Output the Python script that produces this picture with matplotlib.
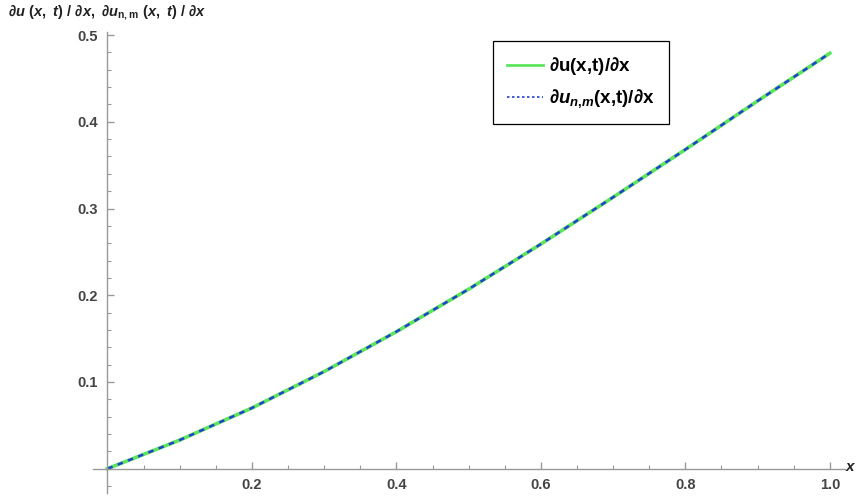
import matplotlib.pyplot as plt
import numpy as np
from matplotlib.ticker import MultipleLocator, FixedLocator

plt.rcParams['font.family'] = ['Liberation Sans', 'DejaVu Sans']
plt.rcParams['mathtext.fontset'] = 'custom'
plt.rcParams['mathtext.rm'] = 'Liberation Sans:bold'
plt.rcParams['mathtext.it'] = 'Liberation Sans:bold:italic'
plt.rcParams['mathtext.bf'] = 'Liberation Sans:bold'

# values
x = [0.0, 0.1, 0.2, 0.3, 0.4, 0.5, 0.6, 0.7, 0.8, 0.9, 1.0]
du_exact = [0.0, 0.033, 0.070, 0.112, 0.158, 0.207, 0.259, 0.313, 0.368, 0.424, 0.479]
du_approx = [0.0, 0.033, 0.070, 0.112, 0.158, 0.207, 0.259, 0.313, 0.368, 0.424, 0.479]
xticks = [0.2, 0.4, 0.6, 0.8, 1.0]
yticks = [0.1, 0.2, 0.3, 0.4, 0.5]

fig = plt.figure(figsize=(8.58, 4.97), dpi=100)
ax = fig.add_axes([93/858, 1 - 493/497, (845 - 93)/858, (493 - 32)/497])

ax.plot(x, du_exact, color='#5de65d', lw=2.6, label=r'$\partial\mathrm{u(x{,}t)/}\partial\mathrm{x}$')
ax.plot(x, du_approx, color='#2340d0', lw=1.8, ls=(0, (2.2, 2.2)),
        label=r'$\partial u_{n{,}m}\mathrm{(x{,}t)/}\partial\mathrm{x}$')

ax.set_xlim(-0.02, 1.021)
ax.set_ylim(-0.028, 0.5035)

for s in ['top', 'right']:
    ax.spines[s].set_visible(False)
ax.spines['left'].set_position(('data', 0))
ax.spines['bottom'].set_position(('data', 0))
for s in ['left', 'bottom']:
    ax.spines[s].set_color('#999999')
    ax.spines[s].set_linewidth(1.0)

ax.xaxis.set_major_locator(FixedLocator(xticks))
ax.yaxis.set_major_locator(FixedLocator(yticks))
ax.xaxis.set_minor_locator(MultipleLocator(0.05))
ax.yaxis.set_minor_locator(MultipleLocator(0.02))
ax.set_xticklabels(['%.1f' % v for v in xticks])
ax.set_yticklabels(['%.1f' % v for v in yticks])
ax.tick_params(which='major', direction='in', length=5, width=1, color='#999999',
               labelsize=10.5, labelcolor='#444444', pad=7)
ax.tick_params(which='minor', direction='in', length=3, width=0.8, color='#999999')
for lab in ax.get_xticklabels() + ax.get_yticklabels():
    lab.set_fontweight('bold')

fig.text(851/858, 1 - 467/497, r'$x$', ha='center', va='center', fontsize=11, color='#222222')
fig.text(8/858, 1 - 13/497,
         r'$\partial u\ (x,\ t)\ /\ \partial x,\ \partial u_{\mathrm{n,m}}\ (x,\ t)\ /\ \partial x$',
         ha='left', va='center', fontsize=10.5, color='#222222')

leg = ax.legend(loc='upper left', bbox_to_anchor=(493/858, 1 - 41/497),
                bbox_transform=fig.transFigure, borderaxespad=0, fontsize=13.5,
                fancybox=False, framealpha=1, edgecolor='black', handlelength=1.9,
                borderpad=0.75, labelspacing=0.55, handletextpad=0.35)
leg.get_frame().set_linewidth(0.9)
leg.get_lines()[0].set_linewidth(2.0)
leg.get_lines()[1].set_linewidth(1.2)
leg.get_lines()[1].set_linestyle((0, (1.5, 1.5)))

fig.savefig('out.png', dpi=100)
